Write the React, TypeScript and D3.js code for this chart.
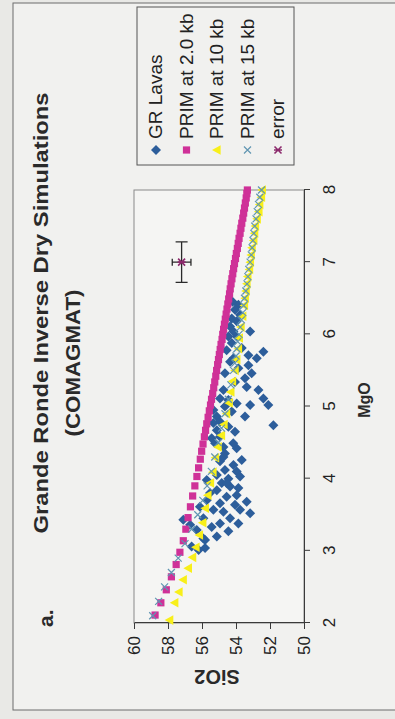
import { useEffect, useRef } from 'react';
import * as d3 from 'd3';

// [MgO, SiO2]
const grLavas: [number, number][] = [
  [6.41, 53.86], [6.34, 54.06], [6.27, 53.76], [6.22, 54.25], [6.18, 53.96], [6.11, 54.35],
  [6.04, 53.17], [6.04, 54.15], [5.97, 54.45], [5.97, 53.96], [5.88, 54.25], [5.81, 53.66],
  [5.78, 54.55], [5.76, 52.39], [5.71, 53.27], [5.67, 52.78], [5.67, 54.15], [5.62, 54.35],
  [5.57, 53.27], [5.53, 53.86], [5.46, 53.08], [5.46, 54.65], [5.39, 53.47], [5.34, 54.06],
  [5.23, 52.68], [5.27, 53.37], [5.23, 54.74], [5.11, 54.94], [5.09, 54.45], [5.11, 52.39],
  [5.04, 53.96], [5.02, 52.1], [5.02, 53.17], [5.0, 54.65], [4.95, 55.33], [4.93, 54.25],
  [4.86, 53.47], [4.86, 55.13], [4.79, 54.94], [4.77, 55.33], [4.72, 54.45], [4.74, 51.8],
  [4.67, 55.13], [4.65, 54.06], [4.58, 54.94], [4.56, 55.43], [4.49, 55.23], [4.44, 54.74],
  [4.42, 53.96], [4.35, 54.65], [4.26, 53.66], [4.24, 54.94], [4.19, 54.15], [4.12, 54.65],
  [4.1, 53.96], [4.05, 55.13], [4.03, 53.76], [4.0, 54.45], [3.98, 55.72], [3.94, 54.84],
  [3.89, 54.35], [3.87, 53.86], [3.84, 55.13], [3.8, 55.53], [3.77, 53.96], [3.75, 54.55],
  [3.68, 53.37], [3.7, 55.72], [3.66, 54.94], [3.64, 54.06], [3.61, 56.12], [3.57, 55.33],
  [3.57, 53.76], [3.54, 54.74], [3.52, 53.17], [3.45, 55.92], [3.45, 54.35], [3.38, 54.94],
  [3.38, 53.86], [3.33, 55.43], [3.29, 56.31], [3.27, 54.45], [3.17, 55.92], [3.2, 55.13],
  [3.06, 56.61], [3.04, 55.82], [3.43, 57.1], [3.36, 56.7], [3.01, 56.2], [4.3, 54.74],
  [4.49, 54.16], [3.94, 54.55], [3.15, 55.82], [6.45, 54.2],
];

const prim2kb: [number, number][] = [
  [2.11, 58.76], [2.28, 58.42], [2.46, 58.1], [2.64, 57.8], [2.81, 57.52], [2.98, 57.3],
  [3.14, 57.1], [3.3, 56.95], [3.46, 56.82], [3.61, 56.68], [3.76, 56.55], [3.9, 56.42],
  [4.03, 56.3], [4.15, 56.2], [4.27, 56.1], [4.38, 56.02], [4.48, 55.94], [4.58, 55.86],
  [4.67, 55.79], [4.76, 55.72], [4.85, 55.64], [4.94, 55.57], [5.02, 55.5], [5.1, 55.44],
  [5.18, 55.37], [5.26, 55.31], [5.34, 55.25], [5.42, 55.19], [5.5, 55.14], [5.58, 55.08],
  [5.65, 55.03], [5.72, 54.98], [5.79, 54.93], [5.86, 54.88], [5.93, 54.82], [6.0, 54.78],
  [6.07, 54.73], [6.14, 54.68], [6.21, 54.63], [6.28, 54.58], [6.35, 54.53], [6.42, 54.48],
  [6.49, 54.43], [6.56, 54.38], [6.63, 54.34], [6.7, 54.29], [6.77, 54.24], [6.84, 54.19],
  [6.91, 54.14], [6.98, 54.09], [7.05, 54.03], [7.12, 53.98], [7.19, 53.92], [7.26, 53.87],
  [7.33, 53.82], [7.4, 53.76], [7.47, 53.71], [7.54, 53.66], [7.61, 53.6], [7.68, 53.55],
  [7.75, 53.5], [7.82, 53.45], [7.89, 53.4], [7.95, 53.36], [8.0, 53.33],
];

const prim10kb: [number, number][] = [
  [2.04, 57.9], [2.28, 57.6], [2.43, 57.35], [2.6, 57.1], [2.76, 56.8], [2.91, 56.55],
  [3.05, 56.35], [3.22, 56.15], [3.39, 55.95], [3.59, 55.8], [3.77, 55.65], [3.94, 55.5],
  [4.09, 55.35], [4.29, 55.2], [4.44, 55.05], [4.6, 54.85], [4.75, 54.7], [4.9, 54.55],
  [5.05, 54.4], [5.2, 54.3], [5.35, 54.2], [5.5, 54.05], [5.65, 53.95], [5.8, 53.85],
  [5.95, 53.8], [6.1, 53.7], [6.25, 53.6], [6.4, 53.5], [6.5, 53.45], [6.6, 53.4],
  [6.7, 53.35], [6.8, 53.3], [6.9, 53.2], [7.0, 53.15], [7.1, 53.1], [7.2, 53.05],
  [7.3, 52.95], [7.4, 52.9], [7.5, 52.85], [7.6, 52.75], [7.7, 52.65], [7.8, 52.6],
  [7.9, 52.5], [8.0, 52.45],
];

const prim15kb: [number, number][] = [
  [2.1, 58.9], [2.3, 58.55], [2.5, 58.2], [2.7, 57.8], [2.9, 57.4], [3.1, 57.0],
  [3.3, 56.6], [3.5, 56.25], [3.7, 55.95], [3.9, 55.7], [4.1, 55.45], [4.3, 55.25],
  [4.5, 55.05], [4.7, 54.85], [4.9, 54.65], [5.1, 54.45], [5.3, 54.3], [5.5, 54.15],
  [5.6, 54.07], [5.7, 54.0], [5.8, 53.95], [5.9, 53.9], [6.0, 53.82], [6.1, 53.75],
  [6.2, 53.68], [6.3, 53.6], [6.4, 53.55], [6.5, 53.5], [6.6, 53.42], [6.7, 53.35],
  [6.8, 53.3], [6.9, 53.25], [7.0, 53.17], [7.1, 53.1], [7.2, 53.05], [7.3, 53.0],
  [7.4, 52.95], [7.5, 52.9], [7.6, 52.82], [7.7, 52.75], [7.8, 52.68], [7.9, 52.6],
  [8.0, 52.5],
];

const errorPoint: [number, number] = [7.0, 57.2];
const errorMgO = 0.28;
const errorSiO2 = 0.55;

const mgoTicks = [2, 3, 4, 5, 6, 7, 8];
const sio2Ticks = [50, 52, 54, 56, 58, 60];
const legendLabels = ['GR Lavas', 'PRIM at 2.0 kb', 'PRIM at 10 kb', 'PRIM at 15 kb', 'error'];

const FONT = '"Liberation Sans", Arial, sans-serif';
const BLUE = '#2d5e9b';
const MAGENTA = '#cf3198';
const YELLOW = '#f8ef1a';
const TEAL = '#6196b2';
const PURPLE = '#8c2a6c';

type Marker = 'diamond' | 'square' | 'triangle' | 'cross' | 'star';

function drawMarker(g: d3.Selection<SVGGElement, unknown, null, undefined>, type: Marker, cx: number, cy: number) {
  if (type === 'diamond') {
    g.append('path').attr('d', `M${cx},${cy - 5}L${cx + 5},${cy}L${cx},${cy + 5}L${cx - 5},${cy}Z`).attr('fill', BLUE);
  } else if (type === 'square') {
    g.append('rect').attr('x', cx - 3.6).attr('y', cy - 3.6).attr('width', 7.2).attr('height', 7.2).attr('fill', MAGENTA);
  } else if (type === 'triangle') {
    g.append('path').attr('d', `M${cx},${cy - 5}L${cx + 4.8},${cy + 3.6}L${cx - 4.8},${cy + 3.6}Z`).attr('fill', YELLOW);
  } else if (type === 'cross') {
    g.append('path')
      .attr('d', `M${cx - 3.5},${cy - 3.5}L${cx + 3.5},${cy + 3.5}M${cx - 3.5},${cy + 3.5}L${cx + 3.5},${cy - 3.5}`)
      .attr('stroke', TEAL)
      .attr('stroke-width', 1.2);
  } else {
    g.append('path')
      .attr('d', `M${cx - 3.5},${cy - 3.5}L${cx + 3.5},${cy + 3.5}M${cx - 3.5},${cy + 3.5}L${cx + 3.5},${cy - 3.5}M${cx},${cy - 4}L${cx},${cy + 4}`)
      .attr('stroke', PURPLE)
      .attr('stroke-width', 1.6);
  }
}

export default function App() {
  const svgRef = useRef<SVGSVGElement>(null);
  const W = 395;
  const H = 719;

  useEffect(() => {
    if (!svgRef.current) return;
    const svg = d3.select(svgRef.current);
    svg.selectAll('*').remove();

    svg.append('rect').attr('width', W).attr('height', H).attr('fill', '#e9e9e6');

    // chart is drawn upright, then turned a quarter to the left
    const g = svg.append('g').attr('transform', `translate(0,${H}) rotate(-90)`);

    g.append('rect')
      .attr('x', 9)
      .attr('y', 13)
      .attr('width', 707)
      .attr('height', 400)
      .attr('fill', '#f1f1ef')
      .attr('stroke', '#6d6d6d')
      .attr('stroke-width', 1);

    const x = d3.scaleLinear().domain([2, 8]).range([96, 529]);
    const y = d3.scaleLinear().domain([50, 60]).range([304, 134]);

    g.append('rect')
      .attr('x', 96)
      .attr('y', 134)
      .attr('width', 433)
      .attr('height', 170)
      .attr('fill', '#f5f5f3')
      .attr('stroke', '#8a8a8a')
      .attr('stroke-width', 1);

    const xAxis = g
      .append('g')
      .attr('transform', 'translate(0,304)')
      .call(d3.axisBottom(x).tickValues(mgoTicks).tickSize(6).tickSizeOuter(0).tickFormat(d3.format('d')));
    xAxis.attr('font-size', 17).attr('font-family', FONT);
    xAxis.selectAll('text').attr('y', 31).attr('dy', 0).attr('fill', '#222');

    const yAxis = g
      .append('g')
      .attr('transform', 'translate(96,0)')
      .call(d3.axisLeft(y).tickValues(sio2Ticks).tickSize(6).tickSizeOuter(0).tickPadding(7).tickFormat(d3.format('d')));
    yAxis.attr('font-size', 17).attr('font-family', FONT);
    yAxis.selectAll('text').attr('fill', '#222');

    [xAxis, yAxis].forEach((a) => {
      a.select('.domain').attr('stroke', '#3a3a3a');
      a.selectAll('line').attr('stroke', '#3a3a3a');
    });

    const marks = g.append('g');
    grLavas.forEach((d) => drawMarker(marks, 'diamond', x(d[0]), y(d[1])));
    prim2kb.forEach((d) => drawMarker(marks, 'square', x(d[0]), y(d[1])));
    prim10kb.forEach((d) => drawMarker(marks, 'triangle', x(d[0]), y(d[1])));
    prim15kb.forEach((d) => drawMarker(marks, 'cross', x(d[0]), y(d[1])));

    // error bars
    const ex = x(errorPoint[0]);
    const ey = y(errorPoint[1]);
    const x0 = x(errorPoint[0] - errorMgO);
    const x1 = x(errorPoint[0] + errorMgO);
    const y0 = y(errorPoint[1] - errorSiO2);
    const y1 = y(errorPoint[1] + errorSiO2);
    marks
      .append('path')
      .attr(
        'd',
        `M${x0},${ey}L${x1},${ey}M${x0},${ey - 6}L${x0},${ey + 6}M${x1},${ey - 6}L${x1},${ey + 6}` +
          `M${ex},${y0}L${ex},${y1}M${ex - 3.5},${y0}L${ex + 3.5},${y0}M${ex - 3.5},${y1}L${ex + 3.5},${y1}`
      )
      .attr('stroke', '#2a2a2a')
      .attr('stroke-width', 1.3)
      .attr('fill', 'none');
    drawMarker(marks, 'star', ex, ey);

    // titles
    g.append('text')
      .attr('x', 406)
      .attr('y', 48)
      .attr('text-anchor', 'middle')
      .attr('font-family', FONT)
      .attr('font-weight', 'bold')
      .attr('font-size', 21)
      .attr('fill', '#2a2a2a')
      .attr('textLength', 441)
      .attr('lengthAdjust', 'spacingAndGlyphs')
      .text('Grande Ronde Inverse Dry Simulations');
    g.append('text')
      .attr('x', 356)
      .attr('y', 80)
      .attr('text-anchor', 'middle')
      .attr('font-family', FONT)
      .attr('font-weight', 'bold')
      .attr('font-size', 21)
      .attr('fill', '#2a2a2a')
      .attr('textLength', 147)
      .attr('lengthAdjust', 'spacingAndGlyphs')
      .text('(COMAGMAT)');
    g.append('text')
      .attr('x', 92)
      .attr('y', 53)
      .attr('font-family', FONT)
      .attr('font-weight', 'bold')
      .attr('font-size', 21)
      .attr('fill', '#2a2a2a')
      .text('a.');

    g.append('text')
      .attr('x', 319)
      .attr('y', 370)
      .attr('text-anchor', 'middle')
      .attr('font-family', FONT)
      .attr('font-weight', 'bold')
      .attr('font-size', 16)
      .attr('fill', '#2a2a2a')
      .text('MgO');
    g.append('text')
      .attr('transform', 'translate(49,217) rotate(-90)')
      .attr('text-anchor', 'middle')
      .attr('font-family', FONT)
      .attr('font-weight', 'bold')
      .attr('font-size', 20)
      .attr('fill', '#2a2a2a')
      .text('SiO2');

    // legend
    const legend = g.append('g');
    legend
      .append('rect')
      .attr('x', 554)
      .attr('y', 137)
      .attr('width', 158)
      .attr('height', 157)
      .attr('fill', 'none')
      .attr('stroke', '#555')
      .attr('stroke-width', 1);
    const legendMarkers: Marker[] = ['diamond', 'square', 'triangle', 'cross', 'star'];
    const baselines = d3.scaleLinear().domain([0, 4]).range([162, 284]);
    legendLabels.forEach((label, i) => {
      const by = baselines(i);
      drawMarker(legend, legendMarkers[i], 569, by - 6);
      legend
        .append('text')
        .attr('x', 580)
        .attr('y', by)
        .attr('font-family', FONT)
        .attr('font-size', 19)
        .attr('fill', '#222')
        .text(label);
    });
  }, []);

  return <svg ref={svgRef} width={W} height={H} style={{ position: 'absolute', left: 0, top: 0 }} />;
}
